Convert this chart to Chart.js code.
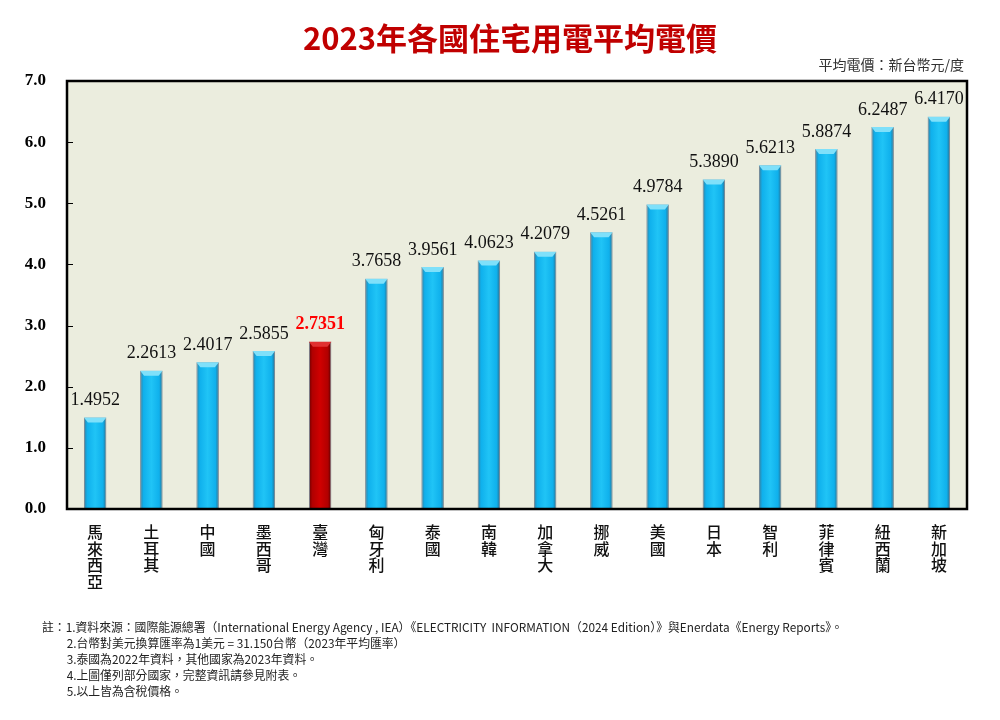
<!DOCTYPE html>
<html>
<head>
<meta charset="utf-8">
<script src="https://cdn.jsdelivr.net/npm/chart.js@4"></script>
<style>
  body { margin: 0; background: #fff; }
  #wrap { position: relative; width: 1000px; height: 720px; }
  #title { position: absolute; left: 0; width: 1020px; top: 14px; text-align: center;
    font: bold 31px "Noto Sans CJK TC", sans-serif; color: #C00000; }
  #unit { position: absolute; right: 36px; top: 54px; font: 14px "Noto Sans CJK TC", sans-serif; color: #333; }
  #notes { position: absolute; left: 42px; top: 619px; font: 12px "Noto Sans CJK TC", sans-serif; color: #222;
    line-height: 16px; transform-origin: 0 0; transform: scaleX(0.985); white-space: nowrap; }
  #notes div.i { padding-left: 25px; }
</style>
</head>
<body>
<div id="wrap">
  <canvas id="myChart" width="1000" height="720"></canvas>
  <div id="title">2023年各國住宅用電平均電價</div>
  <div id="unit">平均電價：新台幣元/度</div>
  <div id="notes">
    <div>註：1.資料來源：國際能源總署（International Energy Agency , IEA）《ELECTRICITY&nbsp; INFORMATION（2024 Edition）》與Enerdata《Energy Reports》。</div>
    <div class="i">2.台幣對美元換算匯率為1美元 = 31.150台幣（2023年平均匯率）</div>
    <div class="i">3.泰國為2022年資料，其他國家為2023年資料。</div>
    <div class="i">4.上圖僅列部分國家，完整資訊請參見附表。</div>
    <div class="i">5.以上皆為含稅價格。</div>
  </div>
</div>
<script>
// data
let countries = ["馬來西亞", "土耳其", "中國", "墨西哥", "臺灣", "匈牙利", "泰國", "南韓",
  "加拿大", "挪威", "美國", "日本", "智利", "菲律賓", "紐西蘭", "新加坡"];
let prices = [1.4952, 2.2613, 2.4017, 2.5855, 2.7351, 3.7658, 3.9561, 4.0623,
  4.2079, 4.5261, 4.9784, 5.3890, 5.6213, 5.8874, 6.2487, 6.4170];
let highlight = "臺灣";
let yTicks = [0, 1, 2, 3, 4, 5, 6, 7];

let barPct = 0.4;

function barFill(c) {
  let chart = c.chart;
  let xs = chart.scales.x;
  let red = countries[c.dataIndex] === highlight;
  if (!xs || !chart.chartArea) return red ? "#C00000" : "#15B2EC";
  let cx = xs.getPixelForValue(c.dataIndex);
  let w = xs.width / countries.length * barPct;
  let g = chart.ctx.createLinearGradient(cx - w / 2, 0, cx + w / 2, 0);
  if (red) {
    g.addColorStop(0, "#6a0000");
    g.addColorStop(0.15, "#b00000");
    g.addColorStop(0.5, "#d00000");
    g.addColorStop(0.85, "#b00000");
    g.addColorStop(1, "#500000");
  } else {
    g.addColorStop(0, "#3d7a98");
    g.addColorStop(0.15, "#0fb0ec");
    g.addColorStop(0.5, "#20c4f6");
    g.addColorStop(0.85, "#0fb0ec");
    g.addColorStop(1, "#2e6a88");
  }
  return g;
}

let frame = {
  id: "frame",
  beforeDraw(chart) {
    let a = chart.chartArea, ctx = chart.ctx;
    ctx.save();
    ctx.fillStyle = "#EBEDDE";
    ctx.fillRect(a.left, a.top, a.right - a.left, a.bottom - a.top);
    ctx.restore();
  },
  afterDatasetsDraw(chart) {
    let a = chart.chartArea, ctx = chart.ctx;
    let ys = chart.scales.y;
    let meta = chart.getDatasetMeta(0);
    ctx.save();
    // caps on top of bars
    meta.data.forEach(function (bar, i) {
      let red = countries[i] === highlight;
      let h = bar.width / 2;
      ctx.fillStyle = red ? "#e03030" : "#7fe0fa";
      ctx.beginPath();
      ctx.moveTo(bar.x - h, bar.y);
      ctx.lineTo(bar.x + h, bar.y);
      ctx.lineTo(bar.x + h - 4, bar.y + 5);
      ctx.lineTo(bar.x - h + 4, bar.y + 5);
      ctx.closePath();
      ctx.fill();
    });
    // value labels
    ctx.textAlign = "center";
    ctx.textBaseline = "bottom";
    meta.data.forEach(function (bar, i) {
      let red = countries[i] === highlight;
      ctx.font = (red ? "bold " : "") + "18px 'Liberation Serif', serif";
      ctx.fillStyle = red ? "#FF0000" : "#111";
      ctx.fillText(prices[i].toFixed(4), bar.x, bar.y - 8);
    });
    // inner ticks
    ctx.strokeStyle = "#000";
    ctx.lineWidth = 1;
    yTicks.forEach(function (v) {
      if (v === 0 || v === 7) return;
      let y = Math.round(ys.getPixelForValue(v)) + 0.5;
      ctx.beginPath();
      ctx.moveTo(a.left, y);
      ctx.lineTo(a.left + 6, y);
      ctx.stroke();
    });
    // frame
    ctx.lineWidth = 2.5;
    ctx.strokeRect(a.left, a.top, a.right - a.left, a.bottom - a.top);
    ctx.restore();
  }
};

new Chart("myChart", {
  type: "bar",
  data: {
    labels: countries.map(function (s) { return s.split(""); }),
    datasets: [{
      data: prices,
      backgroundColor: barFill,
      borderColor: "#6f8090",
      borderWidth: 1,
      barPercentage: barPct,
      categoryPercentage: 1
    }]
  },
  options: {
    responsive: false,
    animation: false,
    layout: { padding: { top: 81, right: 33, left: 0, bottom: 0 } },
    plugins: { legend: { display: false }, tooltip: { enabled: false } },
    scales: {
      x: {
        grid: { display: false },
        border: { display: false },
        ticks: {
          color: "#111",
          padding: 6,
          maxRotation: 0,
          autoSkip: false,
          font: { family: "'Noto Sans CJK TC', sans-serif", size: 16, weight: "500", lineHeight: 1.06 }
        },
        afterFit: function (s) { s.height = 211; }
      },
      y: {
        min: 0,
        max: 7,
        grid: { display: false },
        border: { display: false },
        ticks: {
          stepSize: 1,
          padding: 13,
          color: "#000",
          font: { family: "'Liberation Serif', serif", size: 17, weight: "bold" },
          callback: function (v) { return v.toFixed(1); }
        },
        afterFit: function (s) { s.width = 67; }
      }
    }
  },
  plugins: [frame]
});
</script>
</body>
</html>
